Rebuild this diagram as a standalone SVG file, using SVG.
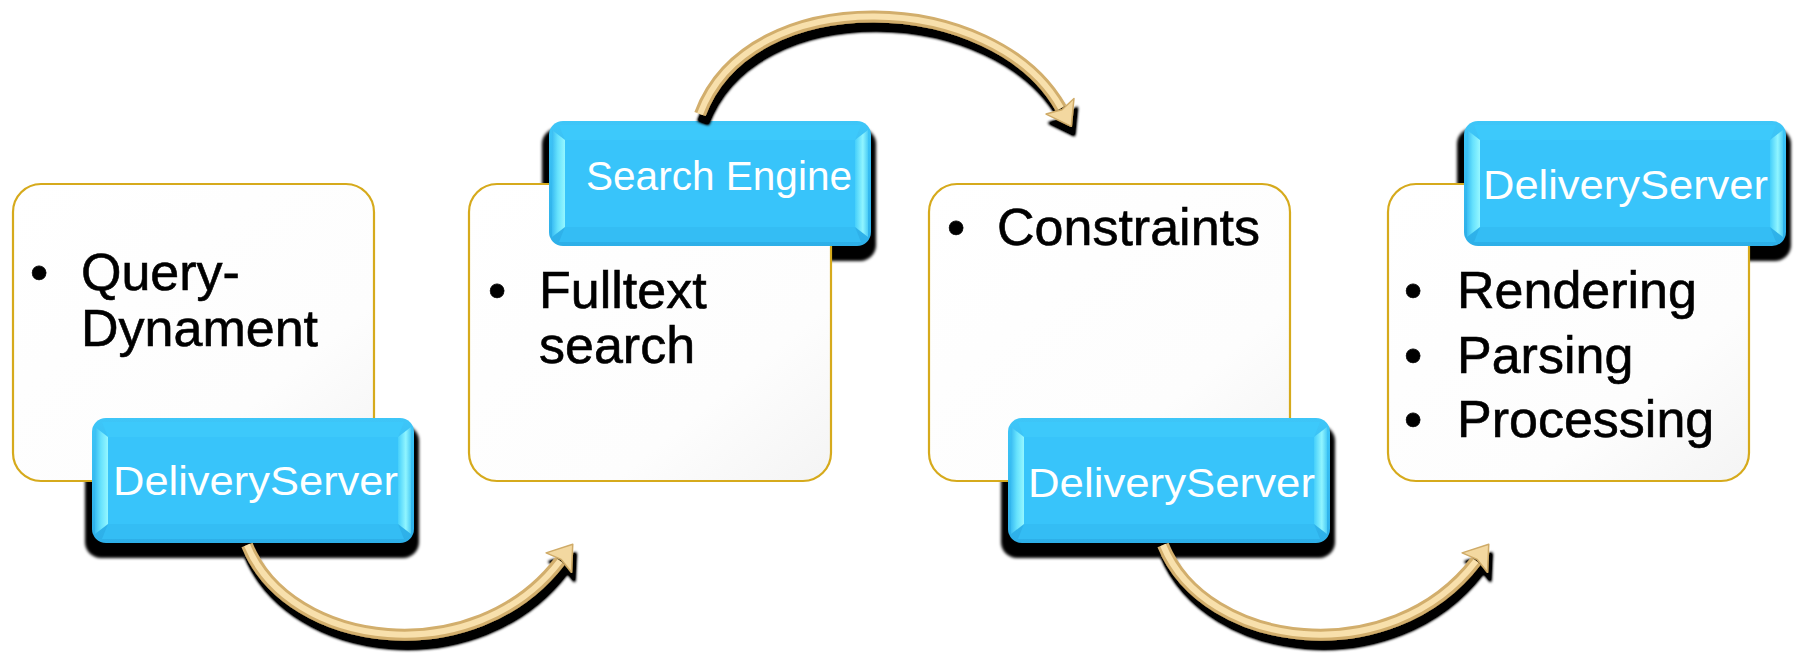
<svg xmlns="http://www.w3.org/2000/svg" width="1794" height="655" viewBox="0 0 1794 655">
<defs>
<style>
.card{fill:url(#cardFill);stroke:#D6AA1C;stroke-width:2.2}
.bsh{fill:#000;filter:url(#soft)}
.txt{font-family:"Liberation Sans",Arial,sans-serif;font-size:52px;fill:#000;stroke:#000;stroke-width:0.6}
.btxt{font-family:"Liberation Sans",Arial,sans-serif;font-size:40px;fill:#fff}
.aout{fill:none;stroke:#D2AE6C;stroke-width:12}
.ain{fill:none;stroke:#F8E0AC;stroke-width:6}
</style>
<linearGradient id="cardFill" x1="0" y1="0" x2="1" y2="1">
<stop offset="0" stop-color="#ffffff"/>
<stop offset="0.7" stop-color="#fdfdfd"/>
<stop offset="1" stop-color="#f4f4f4"/>
</linearGradient>
<linearGradient id="rimG" x1="0" y1="0" x2="0" y2="1">
<stop offset="0" stop-color="#3EC6F8"/>
<stop offset="1" stop-color="#2DAFE8"/>
</linearGradient>
<linearGradient id="bevL" x1="0" y1="0" x2="1" y2="0">
<stop offset="0" stop-color="#3ABDF3"/>
<stop offset="0.45" stop-color="#66E2FD"/>
<stop offset="1" stop-color="#95F7FF"/>
</linearGradient>
<linearGradient id="bevR" x1="0" y1="0" x2="1" y2="0">
<stop offset="0" stop-color="#45CFFB"/>
<stop offset="0.6" stop-color="#90F5FF"/>
<stop offset="1" stop-color="#4CCDF6"/>
</linearGradient>
<filter id="soft" x="-10%" y="-10%" width="120%" height="130%">
<feGaussianBlur stdDeviation="1.6"/>
</filter>
<filter id="dsh" filterUnits="userSpaceOnUse" x="0" y="0" width="1794" height="655">
<feGaussianBlur in="SourceAlpha" stdDeviation="1.6"/>
<feOffset dx="3" dy="9"/>
<feComponentTransfer><feFuncA type="linear" slope="1.7"/></feComponentTransfer>
<feMerge><feMergeNode/><feMergeNode in="SourceGraphic"/></feMerge>
</filter>
<marker id="head" markerUnits="userSpaceOnUse" markerWidth="40" markerHeight="40" refX="0" refY="0" orient="auto" overflow="visible">
<path d="M-2,-16 L21,0 L-2,16 L2,0 Z" fill="#F3D8A0" stroke="#CFAB68" stroke-width="1.5" stroke-linejoin="round"/>
</marker>
<g id="btn">
<rect x="0" y="0" width="322" height="125" rx="14" fill="url(#rimG)"/>
<polygon points="10,4 312,4 306,19 16,19" fill="#3DC9FB"/>
<polygon points="16,106 306,106 312,121 10,121" fill="#34BDF4"/>
<polygon points="3,9 16,19 16,106 3,116" fill="url(#bevL)"/>
<polygon points="319,9 306,19 306,106 319,116" fill="url(#bevR)"/>
<rect x="16" y="19" width="290" height="87" fill="#38C4FA"/>
</g>
</defs>
<rect width="1794" height="655" fill="#fff"/>

<g id="node1">
<rect class="bsh" x="85" y="425" width="334" height="133" rx="16"/>
<rect class="card" x="13" y="184" width="361" height="297" rx="28"/>
<text class="txt" x="30" y="290">•</text>
<text class="txt" x="81" y="290">Query-</text>
<text class="txt" x="81" y="346">Dynament</text>
<use href="#btn" x="92" y="418"/>
<text class="btxt" x="113" y="495" textLength="285" lengthAdjust="spacingAndGlyphs">DeliveryServer</text>
</g>

<g id="node2">
<rect class="bsh" x="542" y="128" width="334" height="133" rx="16"/>
<rect class="card" x="469" y="184" width="362" height="297" rx="28"/>
<text class="txt" x="488" y="308">•</text>
<text class="txt" x="539" y="308">Fulltext</text>
<text class="txt" x="539" y="363">search</text>
<use href="#btn" x="549" y="121"/>
<text class="btxt" x="586" y="190" textLength="266" lengthAdjust="spacingAndGlyphs">Search Engine</text>
</g>

<g id="node3">
<rect class="bsh" x="1001" y="425" width="334" height="133" rx="16"/>
<rect class="card" x="929" y="184" width="361" height="297" rx="28"/>
<text class="txt" x="947" y="245">•</text>
<text class="txt" x="997" y="245">Constraints</text>
<use href="#btn" x="1008" y="418"/>
<text class="btxt" x="1028" y="497" textLength="287" lengthAdjust="spacingAndGlyphs">DeliveryServer</text>
</g>

<g id="node4">
<rect class="bsh" x="1457" y="128" width="334" height="133" rx="16"/>
<rect class="card" x="1388" y="184" width="361" height="297" rx="28"/>
<text class="txt" x="1404" y="308">•</text>
<text class="txt" x="1457" y="308">Rendering</text>
<text class="txt" x="1404" y="373">•</text>
<text class="txt" x="1457" y="373">Parsing</text>
<text class="txt" x="1404" y="437">•</text>
<text class="txt" x="1457" y="437">Processing</text>
<use href="#btn" x="1464" y="121"/>
<text class="btxt" x="1483" y="199" textLength="285" lengthAdjust="spacingAndGlyphs">DeliveryServer</text>
</g>

<g id="connectors" filter="url(#dsh)">
<g id="c1">
<path class="aout" d="M 247 545 C 290 650, 475 672, 560 561" marker-end="url(#head)"/>
<path class="ain" d="M 247 545 C 290 650, 475 672, 560 561"/>
</g>
<g id="c2">
<path class="aout" d="M 700 114 C 750 -20, 995 -10, 1061 108" marker-end="url(#head)"/>
<path class="ain" d="M 700 114 C 750 -20, 995 -10, 1061 108"/>
</g>
<g id="c3">
<path class="aout" d="M 1163 545 C 1206 650, 1391 672, 1476 561" marker-end="url(#head)"/>
<path class="ain" d="M 1163 545 C 1206 650, 1391 672, 1476 561"/>
</g>
</g>
</svg>
